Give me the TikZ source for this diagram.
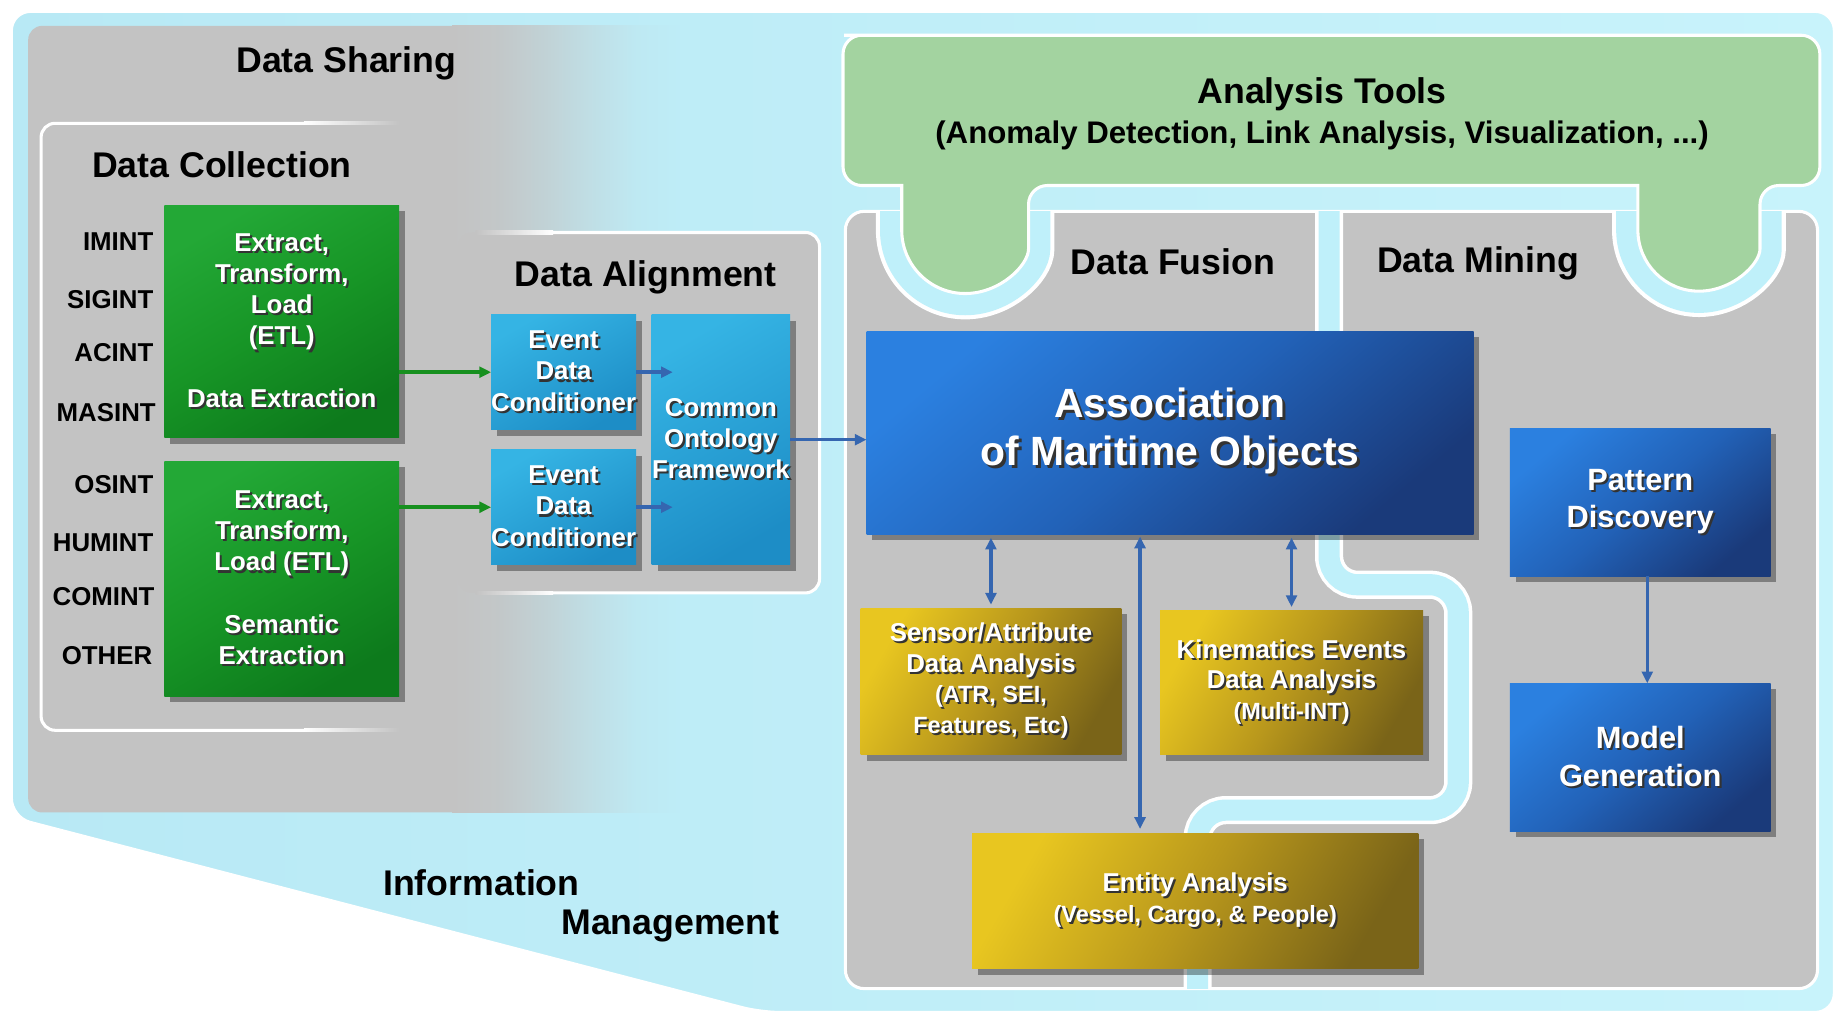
\documentclass[tikz,border=0pt]{standalone}
\usepackage{fontspec}
\setmainfont{Liberation Sans}
\usetikzlibrary{arrows.meta,shadows}

\definecolor{bgA}{HTML}{B8E9F5}
\definecolor{bgB}{HTML}{C8F3FB}
\definecolor{bandblue}{HTML}{BFF0FA}
\definecolor{grD}{HTML}{C3C3C3}
\definecolor{atgreen}{HTML}{A3D3A0}
\definecolor{etlA}{HTML}{23A836}
\definecolor{etlM}{HTML}{179526}
\definecolor{etlB}{HTML}{0D7A1C}
\definecolor{cyA}{HTML}{35B4E4}
\definecolor{cyB}{HTML}{1D8DC6}
\definecolor{blA}{HTML}{2B80E0}
\definecolor{blM}{HTML}{2262B8}
\definecolor{blB}{HTML}{1A3A7A}
\definecolor{goA}{HTML}{E8C620}
\definecolor{goM}{HTML}{B8971C}
\definecolor{goB}{HTML}{7A6418}
\definecolor{arrblue}{HTML}{3566B0}
\definecolor{arrgreen}{HTML}{17901F}
\colorlet{bgX}{bgB!36!bgA}
\colorlet{fmA}{bgX!10!grD}
\colorlet{fmB}{bgX!35!grD}
\colorlet{fmC}{bgX!65!grD}
\colorlet{fmD}{bgX!90!grD}

\pgfdeclarehorizontalshading{shareFade}{100bp}{color(0bp)=(grD); color(25bp)=(grD); color(35bp)=(fmA); color(45bp)=(fmB); color(55bp)=(fmC); color(65bp)=(fmD); color(75bp)=(bgX); color(100bp)=(bgX)}

\newcommand\txsh[1]{\leavevmode\rlap{\kern0.9pt\raisebox{-0.9pt}{\textcolor{black!80}{#1}}}#1}
\newcommand\txshb[1]{\leavevmode\rlap{\kern1.3pt\raisebox{-1.3pt}{\textcolor{black!80}{#1}}}#1}

\begin{document}
\begin{tikzpicture}[x=0.5pt, y=-0.5pt,
  box/.style={inner sep=0pt, outer sep=0pt, align=center, text=white,
    drop shadow={shadow xshift=2.5pt, shadow yshift=-2.5pt, opacity=0.35, fill=black}},
  etl/.style={box, minimum width=100pt, top color=etlA, bottom color=etlB, middle color=etlM, shading angle=30,
    font=\bfseries\fontsize{11}{13.25}\selectfont},
  cy/.style={box, top color=cyA, bottom color=cyB, shading angle=30,
    font=\bfseries\fontsize{11}{13.25}\selectfont},
  bl/.style={box, top color=blA, bottom color=blB, middle color=blM, shading angle=40},
  go/.style={box, top color=goA, bottom color=goB, middle color=goM, shading angle=60,
    font=\bfseries\fontsize{11}{13}\selectfont},
  ttl/.style={inner sep=0pt, font=\bfseries\fontsize{15.2}{18}\selectfont, text=black},
  intl/.style={inner sep=0pt, anchor=east, font=\bfseries\fontsize{11}{13}\selectfont},
  barrow/.style={draw=arrblue, line width=1.5pt, -{Triangle[length=5pt,width=4.6pt]}},
  bdarrow/.style={draw=arrblue, line width=1.5pt, {Triangle[length=5pt,width=4.6pt]}-{Triangle[length=5pt,width=4.6pt]}},
  garrow/.style={draw=arrgreen, line width=1.5pt, -{Triangle[length=5pt,width=4.6pt]}},
]
\useasboundingbox (0,0) rectangle (1568,867);
\fill[white] (0,0) rectangle (1568,867);

% background
\path[rounded corners=8pt, left color=bgA, right color=bgB, draw=white, line width=1pt]
  (10,696) -- (10,10) -- (1562,10) -- (1562,862) -- (648,862) -- cycle;

% data sharing region (gray fading to the right)
\fill[grD, rounded corners=6pt] (24,22) rectangle (400,692);
\shade[shading=shareFade] (385,22) rectangle (580,692);

% data collection outline (fading to the right)
\draw[white, line width=1.3pt, rounded corners=6pt] (260,105) -- (35,105) -- (35,622) -- (260,622);
\shade[left color=white, right color=grD] (259,103.7) rectangle (340,106.3);
\shade[left color=white, right color=grD] (259,620.7) rectangle (340,623.3);

% data alignment region
\fill[grD, rounded corners=6pt] (390,198) rectangle (698,505);
\draw[white, line width=1.3pt, rounded corners=6pt] (470,198) -- (698,198) -- (698,505) -- (470,505);
\shade[left color=grD, right color=white] (405,196.7) rectangle (471,199.3);
\shade[left color=grD, right color=white] (405,503.7) rectangle (471,506.3);

% fusion / mining region
\path[fill=grD, draw=white, line width=1.3pt, rounded corners=8pt] (720,180) rectangle (1548,842);

\begin{scope}
\clip (720,180) rectangle (1548,842);
\draw[white, line width=22pt]
  [rounded corners=8pt] (735,30) -- (1550,30) -- (1550,158) -- (1499,158) -- (1499,196)
  [sharp corners] arc[start angle=0, end angle=180, radius=52] -- (1395,158)
  [rounded corners=8pt] -- (876,158) -- (876,196)
  [sharp corners] arc[start angle=0, end angle=180, radius=54] -- (768,158)
  [rounded corners=8pt] -- (718,158) -- (718,30) -- cycle;
\draw[bandblue, line width=18.5pt]
  [rounded corners=8pt] (735,30) -- (1550,30) -- (1550,158) -- (1499,158) -- (1499,196)
  [sharp corners] arc[start angle=0, end angle=180, radius=52] -- (1395,158)
  [rounded corners=8pt] -- (876,158) -- (876,196)
  [sharp corners] arc[start angle=0, end angle=180, radius=54] -- (768,158)
  [rounded corners=8pt] -- (718,158) -- (718,30) -- cycle;
\draw[white, line width=12pt, rounded corners=12pt]
  (1132,150) -- (1132,498) -- (1242,498) -- (1242,690) -- (1020,690) -- (1020,870);
\draw[bandblue, line width=9pt, rounded corners=12pt]
  (1132,150) -- (1132,498) -- (1242,498) -- (1242,690) -- (1020,690) -- (1020,870);
\end{scope}

% analysis tools shape
\path[fill=atgreen, draw=white, line width=1.3pt]
  [rounded corners=8pt] (735,30) -- (1550,30) -- (1550,158) -- (1499,158) -- (1499,196)
  [sharp corners] arc[start angle=0, end angle=180, radius=52] -- (1395,158)
  [rounded corners=8pt] -- (876,158) -- (876,196)
  [sharp corners] arc[start angle=0, end angle=180, radius=54] -- (768,158)
  [rounded corners=8pt] -- (718,158) -- (718,30) -- cycle;

% titles
\node[ttl] (tShare) at (295,54) {Data Sharing};
\node[ttl] (tColl) at (189,140) {Data Collection};
\node[ttl] (tAlign) at (550,236) {Data Alignment};
\node[ttl] (tFus) at (999,223) {Data Fusion};
\node[ttl] (tMin) at (1259,224) {Data Mining};
\node[ttl] (tAT) at (1126,80) {Analysis Tools};
\node[inner sep=0pt, font=\bfseries\fontsize{13.3}{16}\selectfont] (tATs) at (1126,115)
  {(Anomaly Detection, Link Analysis, Visualization, ...)};
\node[ttl] (tInfo) at (410,752) {Information};
\node[ttl] (tMgmt) at (571,789) {Management};

% INT labels
\node[intl] (l1) at (131,206) {IMINT};
\node[intl] (l2) at (131,255) {SIGINT};
\node[intl] (l3) at (131,300) {ACINT};
\node[intl] (l4) at (133,351) {MASINT};
\node[intl] (l5) at (131,413) {OSINT};
\node[intl] (l6) at (131,462) {HUMINT};
\node[intl] (l7) at (132,508) {COMINT};
\node[intl] (l8) at (130,558) {OTHER};

% ETL boxes
\node[etl, minimum height=99pt] (etl1) at (240,274)
  {\txsh{Extract,}\\\txsh{Transform,}\\\txsh{Load}\\\txsh{(ETL)}\\[13.25pt]\txsh{Data Extraction}};
\node[etl, minimum height=100pt] (etl2) at (240,493)
  {\txsh{Extract,}\\\txsh{Transform,}\\\txsh{Load (ETL)}\\[13.25pt]\txsh{Semantic}\\\txsh{Extraction}};

% alignment boxes
\node[cy, minimum width=60pt, minimum height=49pt] (edc1) at (480,317)
  {\txsh{Event}\\\txsh{Data}\\\txsh{Conditioner}};
\node[cy, minimum width=60pt, minimum height=49pt] (edc2) at (480,432)
  {\txsh{Event}\\\txsh{Data}\\\txsh{Conditioner}};
\node[cy, minimum width=59pt, minimum height=106.5pt] (cof) at (614,374.5)
  {\txsh{Common}\\\txsh{Ontology}\\\txsh{Framework}};

% fusion boxes
\node[bl, minimum width=258.5pt, minimum height=86.5pt, font=\bfseries\fontsize{17.4}{20.5}\selectfont] (assoc) at (996.5,368.5)
  {\txshb{Association}\\\txshb{of Maritime Objects}};
\node[go, minimum width=111pt, minimum height=62.5pt] (sens) at (844,580.5)
  {\txsh{Sensor/Attribute}\\\txsh{Data Analysis}\\{\fontsize{10}{12}\selectfont\txsh{(ATR, SEI,}}\\{\fontsize{10}{12}\selectfont\txsh{Features, Etc)}}};
\node[go, minimum width=112pt, minimum height=61.5pt] (kin) at (1100,581.5)
  {\txsh{Kinematics Events}\\\txsh{Data Analysis}\\{\fontsize{10}{12}\selectfont\txsh{(Multi-INT)}}};
\node[go, minimum width=190pt, minimum height=57.5pt] (ent) at (1018,767.5)
  {\txsh{Entity Analysis}\\{\fontsize{10}{12}\selectfont\txsh{(Vessel, Cargo, \& People)}}};

% mining boxes
\node[bl, minimum width=111pt, minimum height=63pt, font=\bfseries\fontsize{13.1}{16}\selectfont] (pat) at (1397,428)
  {\txsh{Pattern}\\\txsh{Discovery}};
\node[bl, minimum width=111pt, minimum height=63pt, font=\bfseries\fontsize{13.1}{16}\selectfont] (mod) at (1397,645)
  {\txsh{Model}\\\txsh{Generation}};

% connectors
\coordinate (entTop) at ([xshift=-23.5pt]ent.north);
\coordinate (patBot) at ([xshift=3pt]pat.south);
\draw[garrow] (etl1.east |- edc1.west) -- (edc1.west);
\draw[garrow] (etl2.east |- edc2.west) -- (edc2.west);
\draw[barrow, shorten >=-9pt] (edc1.east) -- (cof.west |- edc1.east);
\draw[barrow, shorten >=-9pt] (edc2.east) -- (cof.west |- edc2.east);
\draw[barrow] (cof.east) -- (cof.east -| assoc.west);
\draw[bdarrow, shorten <=1.5pt, shorten >=1.5pt] (assoc.south -| sens.north) -- (sens.north);
\draw[bdarrow, shorten <=1.5pt, shorten >=1.5pt] (assoc.south -| kin.north) -- (kin.north);
\draw[bdarrow, shorten <=1pt, shorten >=2pt] (entTop |- assoc.south) -- (entTop);
\draw[barrow] (patBot) -- (patBot |- mod.north);
\end{tikzpicture}
\end{document}
